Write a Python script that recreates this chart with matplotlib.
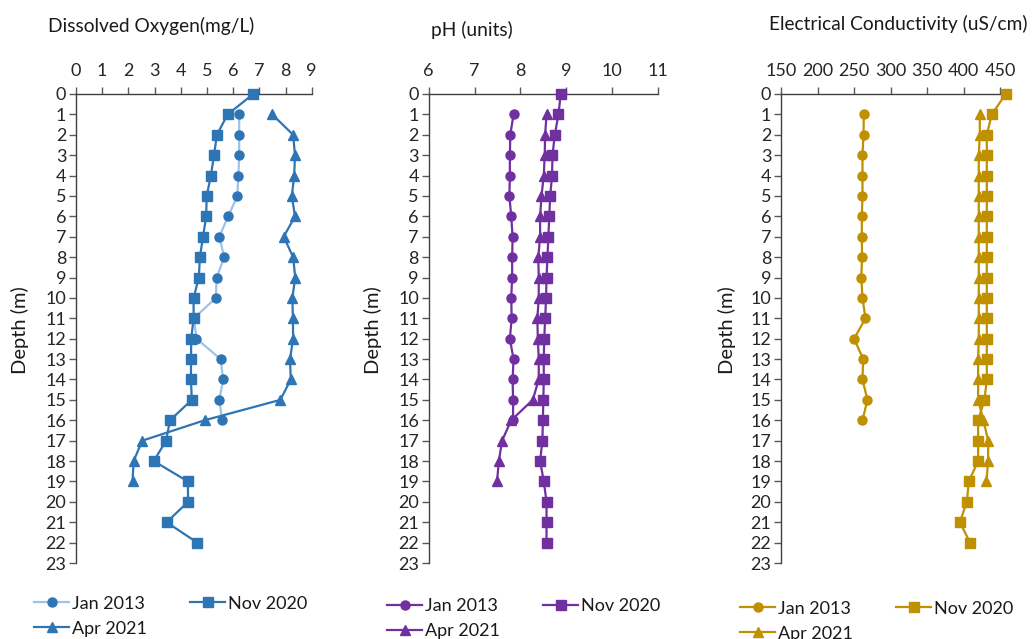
import matplotlib
matplotlib.use("Agg")
import matplotlib.pyplot as plt

plt.rcParams["font.family"] = ["Lato", "DejaVu Sans"]

# Depths (m)
depth_jan = list(range(1, 17))
depth_nov = list(range(0, 23))
depth_apr = list(range(1, 20))

# Dissolved oxygen (mg/L)
do_jan = [6.23, 6.23, 6.23, 6.2, 6.16, 5.81, 5.47, 5.66, 5.37, 5.34, 4.5, 4.6,
          5.52, 5.62, 5.47, 5.58]
do_nov = [6.77, 5.79, 5.38, 5.27, 5.15, 4.99, 4.97, 4.85, 4.73, 4.69, 4.49, 4.49,
          4.4, 4.39, 4.39, 4.42, 3.59, 3.44, 2.97, 4.27, 4.28, 3.46, 4.63]
do_apr = [7.49, 8.29, 8.36, 8.33, 8.24, 8.36, 7.93, 8.29, 8.37, 8.26, 8.28, 8.29,
          8.17, 8.2, 7.8, 4.91, 2.53, 2.2, 2.16]

# pH (units)
ph_jan = [7.85, 7.78, 7.77, 7.77, 7.76, 7.8, 7.83, 7.82, 7.82, 7.8, 7.81, 7.77,
          7.85, 7.83, 7.84, 7.84]
ph_nov = [8.88, 8.83, 8.75, 8.7, 8.69, 8.65, 8.63, 8.61, 8.59, 8.57, 8.56, 8.54,
          8.52, 8.51, 8.51, 8.5, 8.49, 8.48, 8.43, 8.51, 8.57, 8.57, 8.57]
ph_apr = [8.57, 8.54, 8.53, 8.51, 8.46, 8.43, 8.43, 8.39, 8.4, 8.4, 8.37, 8.38,
          8.4, 8.4, 8.27, 7.8, 7.6, 7.53, 7.49]

# Electrical conductivity (uS/cm)
ec_jan = [263.4, 263, 261.6, 261.6, 261.6, 260.7, 260.7, 261, 260, 261.6, 265.7,
          250.2, 262.5, 261.6, 268.4, 261.6]
ec_nov = [457.8, 438.7, 431.9, 431.9, 431.9, 431.9, 431.9, 431.9, 431.9, 431.9,
          431.9, 431.9, 431.9, 431.9, 431.9, 428.7, 420, 420, 420, 407.3, 404.5,
          395, 409]
ec_apr = [422.3, 422.3, 420.9, 420.9, 420.9, 420.9, 420.9, 420.9, 420.9, 420.9,
          420.9, 420.9, 420, 420, 420, 427.3, 433.7, 433.7, 431.4]

panels = [
    {
        "title": "Dissolved Oxygen(mg/L)",
        "data": (do_jan, do_nov, do_apr),
        "xlim": (0, 9), "xticks": list(range(0, 10)),
        "color": "#2E75B6", "jan_line": "#9DC3E6",
        "rect": [0.0734, 0.1189, 0.2278, 0.734],
        "title_x": 0.046, "title_y": 0.960,
        "ylab_x": 0.019,
        "leg_x": 0.033, "leg_y": 0.068,
    },
    {
        "title": "pH (units)",
        "data": (ph_jan, ph_nov, ph_apr),
        "xlim": (6, 11), "xticks": list(range(6, 12)),
        "color": "#7030A0", "jan_line": "#7030A0",
        "rect": [0.4142, 0.1189, 0.2215, 0.734],
        "title_x": 0.416, "title_y": 0.953,
        "ylab_x": 0.360,
        "leg_x": 0.374, "leg_y": 0.064,
    },
    {
        "title": "Electrical Conductivity (uS/cm)",
        "data": (ec_jan, ec_nov, ec_apr),
        "xlim": (150, 450), "xticks": list(range(150, 451, 50)),
        "color": "#BF9000", "jan_line": "#BF9000",
        "rect": [0.7546, 0.1189, 0.2116, 0.734],
        "title_x": 0.743, "title_y": 0.963,
        "ylab_x": 0.702,
        "leg_x": 0.715, "leg_y": 0.060,
    },
]

fig = plt.figure(figsize=(10.35, 6.39), dpi=100)

for p in panels:
    ax = fig.add_axes(p["rect"])
    jan, nov, apr = p["data"]
    c = p["color"]
    h_jan, = ax.plot(jan, depth_jan, color=p["jan_line"], lw=1.6, marker="o",
                     ms=6.5, mfc=c, mec=c, label="Jan 2013", clip_on=False,
                     zorder=3)
    h_nov, = ax.plot(nov, depth_nov, color=c, lw=1.6, marker="s", ms=6.5,
                     label="Nov 2020", clip_on=False, zorder=3)
    h_apr, = ax.plot(apr, depth_apr, color=c, lw=1.6, marker="^", ms=7,
                     label="Apr 2021", clip_on=False, zorder=3)

    ax.set_xlim(*p["xlim"])
    ax.set_xticks(p["xticks"])
    ax.set_ylim(23, 0)
    ax.set_yticks(range(0, 24))
    ax.xaxis.tick_top()
    ax.tick_params(axis="both", direction="out", length=5, width=1,
                   color="#595959", labelsize=13, labelcolor="#262626", pad=2)
    ax.tick_params(axis="x", pad=6)
    for side in ("right", "bottom"):
        ax.spines[side].set_visible(False)
    for side in ("left", "top"):
        ax.spines[side].set_color("#404040")
        ax.spines[side].set_linewidth(1)

    fig.text(p["title_x"], p["title_y"], p["title"], fontsize=13.8,
             color="#1a1a1a", ha="left", va="center")
    fig.text(p["ylab_x"], 0.484, "Depth (m)", fontsize=14.5, color="#1a1a1a",
             rotation=90, ha="center", va="center")

    # column-major fill: Jan, Nov on first row, Apr below
    fig.legend(handles=[h_jan, h_apr, h_nov], loc="upper left",
               bbox_to_anchor=(p["leg_x"], p["leg_y"]), ncol=2,
               frameon=False, fontsize=13, handlelength=1.95,
               handletextpad=0.15, columnspacing=2.4, borderaxespad=0,
               borderpad=0, labelspacing=0.5, labelcolor="#1a1a1a")

fig.savefig("out.png", dpi=100)
